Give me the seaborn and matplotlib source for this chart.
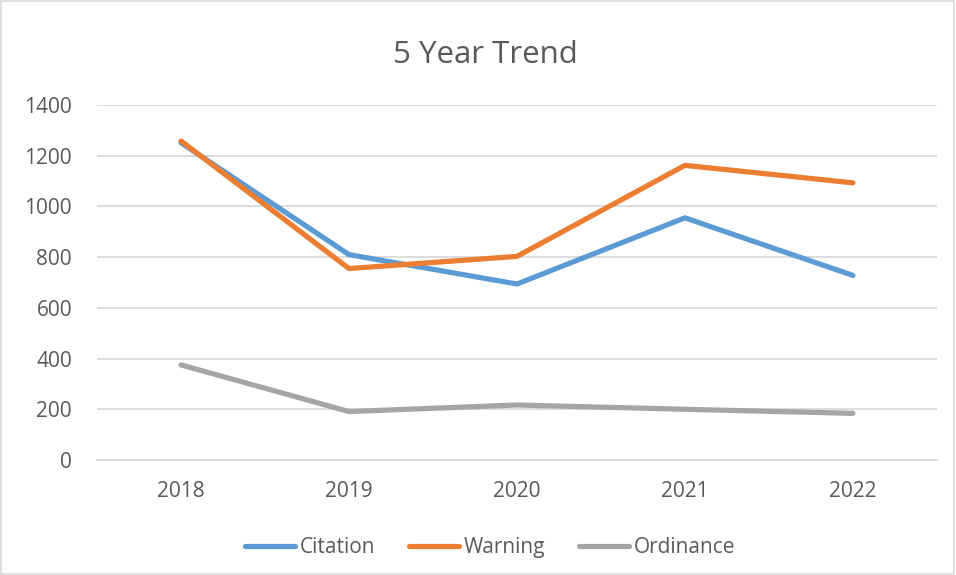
import matplotlib
matplotlib.use("Agg")
import matplotlib.pyplot as plt
import seaborn as sns
import pandas as pd
from matplotlib.patches import Rectangle

# data
years = ["2018", "2019", "2020", "2021", "2022"]
citation = [1251, 810, 694, 955, 728]
warning = [1258, 755, 803, 1162, 1093]
ordinance = [375, 191, 217, 200, 184]
series_names = ["Citation", "Warning", "Ordinance"]
colors = ["#5B9BD5", "#ED7D31", "#A5A5A5"]

df = pd.DataFrame({"Year": years * 3,
                   "Count": citation + warning + ordinance,
                   "Series": [s for s in series_names for _ in years]})

sns.set_style("white")
plt.rcParams["font.family"] = ["Open Sans", "DejaVu Sans"]

fig = plt.figure(figsize=(9.56, 5.75), dpi=100)
ax = fig.add_axes([0.1015, 0.2, 0.8785, 0.6174])

sns.lineplot(data=df, x="Year", y="Count", hue="Series", palette=colors,
             linewidth=3.75, ax=ax, sort=False, solid_capstyle="round")

ax.set_xlim(-0.5, 4.5)
ax.set_ylim(0, 1400)
ax.set_yticks(range(0, 1401, 200))
ax.grid(axis="y", color="#D9D9D9", linewidth=1.3)
ax.set_axisbelow(True)
for s in ["top", "right", "left"]:
    ax.spines[s].set_visible(False)
ax.spines["bottom"].set_color("#D9D9D9")
ax.spines["bottom"].set_linewidth(1.3)
ax.tick_params(axis="both", colors="#595959", labelsize=15, length=0)
ax.tick_params(axis="y", pad=18)
ax.tick_params(axis="x", pad=15)
ax.set_xlabel("")
ax.set_ylabel("")

fig.suptitle("5 Year Trend", x=0.508, y=0.93, fontsize=22.5, color="#595959")

leg = ax.legend(loc="center", bbox_to_anchor=(0.468, -0.246), ncol=3,
                frameon=False, fontsize=15, handlelength=2.4, handletextpad=0.2,
                columnspacing=1.65)
for t in leg.get_texts():
    t.set_color("#595959")
for h in leg.legend_handles:
    h.set_linewidth(3.75)

fig.patches.append(Rectangle((0.001, 0.002), 0.997, 0.996, transform=fig.transFigure,
                             fill=False, edgecolor="#D9D9D9", linewidth=1.2))

fig.savefig("out.png", dpi=100)
